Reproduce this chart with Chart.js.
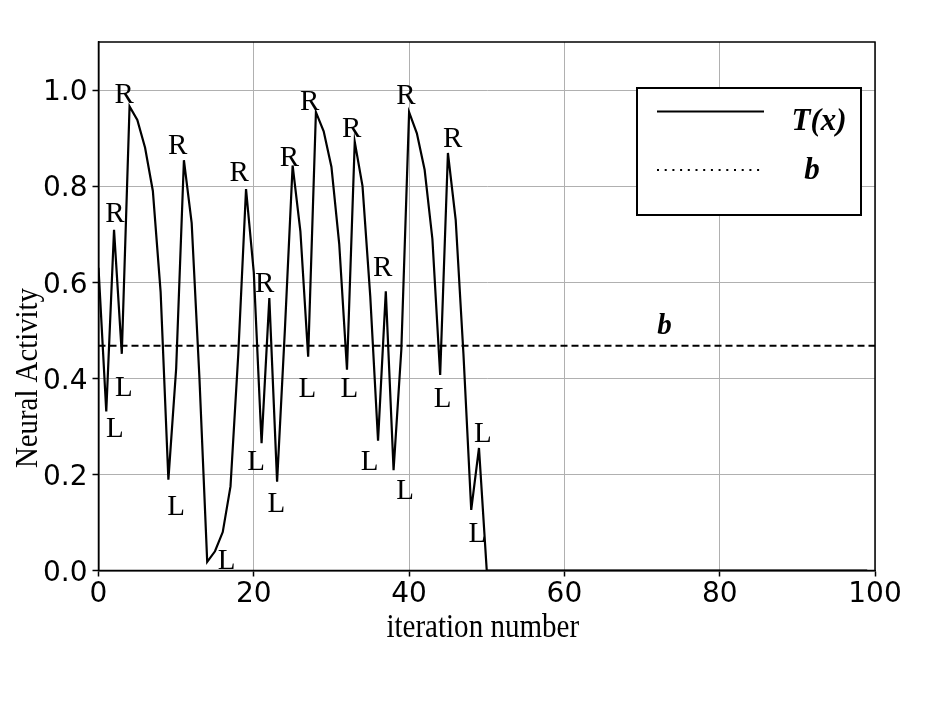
<!DOCTYPE html>
<html>
<head>
<meta charset="utf-8">
<script src="https://cdn.jsdelivr.net/npm/chart.js@4.4.1/dist/chart.umd.min.js"></script>
<style>
  html, body { margin: 0; padding: 0; background: #fff; }
  #wrap { width: 946px; height: 711px; }
</style>
</head>
<body>
<div id="wrap"><canvas id="c" width="946" height="711"></canvas></div>
<script>
// ---- data ----
const iterations = [0,1,2,3,4,5,6,7,8,9,10,11,12,13,14,15,16,17,18,19,20,21,22,23,24,25,26,27,28,29,30,31,32,33,34,35,36,37,38,39,40,41,42,43,44,45,46,47,48,49,50,51,52,53,54,55,56,57,58,59,60,61,62,63,64,65,66,67,68,69,70,71,72,73,74,75,76,77,78,79,80,81,82,83,84,85,86,87,88,89,90,91,92,93,94,95,96,97,98,99];
const activity = [0.63,0.331,0.709,0.451,0.966,0.938,0.88,0.79,0.58,0.189,
                  0.42,0.854,0.723,0.40,0.018,0.04,0.08,0.175,0.45,0.794,
                  0.62,0.265,0.567,0.185,0.50,0.843,0.706,0.445,0.954,0.914,
                  0.84,0.68,0.418,0.892,0.80,0.57,0.27,0.581,0.209,0.46,
                  0.954,0.91,0.834,0.69,0.407,0.869,0.73,0.45,0.126,0.255,
                  0,0,0,0,0,0,0,0,0,0,
                  0,0,0,0,0,0,0,0,0,0,
                  0,0,0,0,0,0,0,0,0,0,
                  0,0,0,0,0,0,0,0,0,0,
                  0,0,0,0,0,0,0,0,0,0];
const bValue = 0.468;
const bLineX = [0, 100];
const bLabel = 'b';
const bLabelX = 72.9;
const bLabelY = 0.507;

// R / L annotations (data coordinates)
const labelText = ['R','L','L','R','R','L','R','L','R','L','L','R','R','L','R','L','R','L','L','R','L','R','L','L'];
const labelX = [2.12,2.12,3.28,3.3,10.2,10.0,18.1,16.5,21.4,20.3,22.9,24.6,27.2,26.9,32.6,32.3,36.6,34.9,39.5,39.6,44.3,45.6,49.5,48.8];
const labelY = [0.742,0.293,0.379,0.988,0.883,0.131,0.827,0.019,0.596,0.224,0.138,0.858,0.974,0.376,0.918,0.376,0.629,0.224,0.165,0.987,0.357,0.898,0.283,0.075];

const legendNames = ['T(x)', 'b'];
const xTitle = 'iteration number';
const yTitle = 'Neural Activity';
const xTicks = [0, 20, 40, 60, 80, 100];
const yTicks = [0.0, 0.2, 0.4, 0.6, 0.8, 1.0];

const mainPoints = iterations.map((it, i) => ({ x: it, y: activity[i] }));
const bPoints = bLineX.map(v => ({ x: v, y: bValue }));

const SERIF = '"Liberation Serif", "Times New Roman", serif';

const overlay = {
  id: 'overlay',
  afterDatasetsDraw(chart) {
    const { ctx, chartArea: a, scales: { x, y } } = chart;
    ctx.save();
    // full frame (spines)
    ctx.strokeStyle = '#000';
    ctx.lineWidth = 1.5;
    ctx.strokeRect(a.left, a.top, a.right - a.left, a.bottom - a.top);

    // R / L annotations
    ctx.fillStyle = '#000';
    ctx.textAlign = 'center';
    ctx.textBaseline = 'middle';
    ctx.font = '29px ' + SERIF;
    labelText.forEach((t, i) => {
      ctx.fillText(t, x.getPixelForValue(labelX[i]), y.getPixelForValue(labelY[i]));
    });

    // b annotation
    ctx.font = 'italic bold 29px ' + SERIF;
    ctx.fillText(bLabel, x.getPixelForValue(bLabelX), y.getPixelForValue(bLabelY));

    // y axis title (placed as in the reference, below the centre)
    ctx.save();
    ctx.translate(a.left - 70, a.top + 336);
    ctx.rotate(-Math.PI / 2);
    ctx.scale(0.9, 1);
    ctx.font = '32px ' + SERIF;
    ctx.fillText(yTitle, 0, 0);
    ctx.restore();

    // x axis title
    ctx.save();
    ctx.translate((a.left + a.right) / 2 - 4, a.bottom + 58);
    ctx.scale(0.88, 1);
    ctx.font = '33px ' + SERIF;
    ctx.fillText(xTitle, 0, 0);
    ctx.restore();

    // legend box
    const bx = a.right - 238, by = a.top + 46, bw = 224, bh = 127;
    ctx.fillStyle = '#fff';
    ctx.fillRect(bx, by, bw, bh);
    ctx.lineWidth = 2;
    ctx.strokeStyle = '#000';
    ctx.strokeRect(bx, by, bw, bh);
    // solid sample
    ctx.beginPath();
    ctx.moveTo(bx + 20, by + 23.5);
    ctx.lineTo(bx + 127, by + 23.5);
    ctx.lineWidth = 2;
    ctx.stroke();
    // dotted sample
    ctx.beginPath();
    ctx.setLineDash([2, 5.7]);
    ctx.moveTo(bx + 20, by + 82);
    ctx.lineTo(bx + 127, by + 82);
    ctx.lineWidth = 2;
    ctx.stroke();
    ctx.setLineDash([]);
    ctx.fillStyle = '#000';
    ctx.font = 'italic bold 31px ' + SERIF;
    ctx.fillText(legendNames[0], bx + 182, by + 34);
    ctx.fillText(legendNames[1], bx + 175, by + 83);
    ctx.restore();
  }
};

new Chart(document.getElementById('c'), {
  type: 'line',
  data: {
    datasets: [
      {
        label: legendNames[0],
        data: mainPoints,
        borderColor: '#000',
        borderWidth: 2.2,
        pointRadius: 0,
        tension: 0,
        fill: false
      },
      {
        label: legendNames[1],
        data: bPoints,
        borderColor: '#000',
        borderWidth: 2,
        borderDash: [7, 4],
        pointRadius: 0,
        fill: false
      }
    ]
  },
  options: {
    responsive: false,
    animation: false,
    events: [],
    layout: { padding: { left: 10, top: 42, right: 71, bottom: 65 } },
    plugins: { legend: { display: false }, tooltip: { enabled: false } },
    scales: {
      x: {
        type: 'linear',
        min: 0,
        max: 100,
        afterBuildTicks(s) { s.ticks = xTicks.map(v => ({ value: v })); },
        afterFit(s) { s.height = 75.5; },
        ticks: {
          color: '#000',
          padding: 1,
          maxRotation: 0,
          font: { family: '"DejaVu Sans"', size: 28 },
          callback: v => String(v)
        },
        grid: { color: '#b0b0b0', lineWidth: 1, tickColor: '#000', tickLength: 6, tickWidth: 1.5 },
        border: { color: '#000', width: 1.5 },
        title: { display: false, text: xTitle }
      },
      y: {
        type: 'linear',
        min: 0,
        max: 1.1,
        afterBuildTicks(s) { s.ticks = yTicks.map(v => ({ value: v })); },
        afterFit(s) { s.width = 88.5; },
        ticks: {
          color: '#000',
          padding: 5,
          labelOffset: 3,
          font: { family: '"DejaVu Sans"', size: 28 },
          callback: v => Number(v).toFixed(1)
        },
        grid: { color: '#b0b0b0', lineWidth: 1, tickColor: '#000', tickLength: 6, tickWidth: 1.5 },
        border: { color: '#000', width: 1.5 },
        title: { display: false, text: yTitle }
      }
    }
  },
  plugins: [overlay]
});
</script>
</body>
</html>
